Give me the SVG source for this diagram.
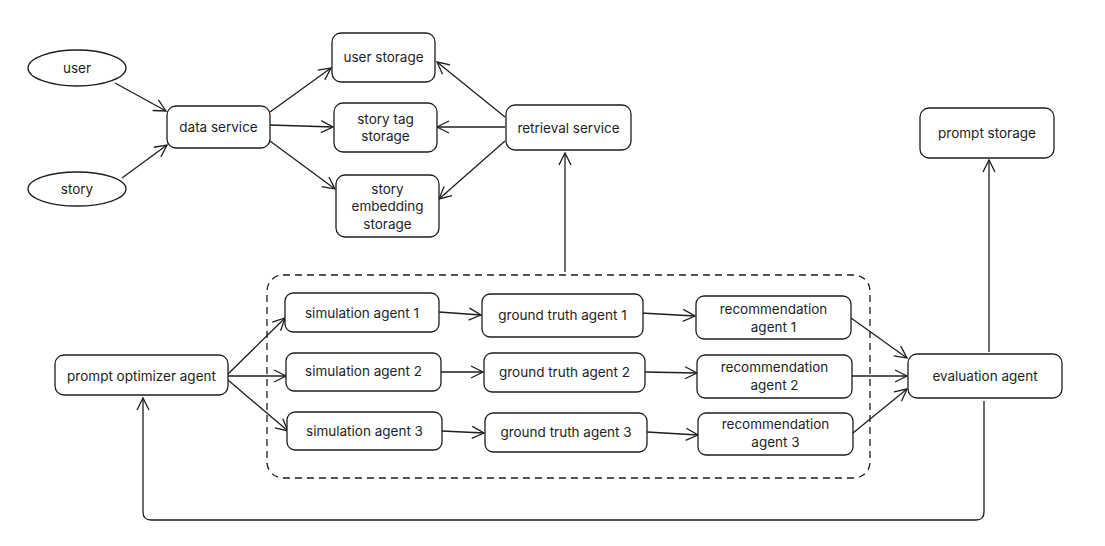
<svg xmlns="http://www.w3.org/2000/svg" width="1105" height="546" viewBox="0 0 1105 546">
<style>
.n{fill:#fff;stroke:#1e1e1e;stroke-width:1.3}
.t{font-family:Inter,"Noto Sans",sans-serif;font-size:13.5px;fill:#1e1e1e;text-anchor:middle;dominant-baseline:central}
.c{fill:none;stroke:#1e1e1e;stroke-width:1.3}
.a{marker-end:url(#ar)}
</style>
<defs>
<marker id="ar" markerUnits="userSpaceOnUse" markerWidth="16" markerHeight="16" refX="13" refY="7" orient="auto">
<path d="M1,1 L13,7 L1,13" fill="none" stroke="#1e1e1e" stroke-width="1.3"/>
</marker>
</defs>
<rect width="1105" height="546" fill="#fff"/>
<g id="container"><rect x="267" y="275" width="603" height="203" rx="16" fill="none" stroke="#1e1e1e" stroke-width="1.3" stroke-dasharray="7,5"/></g>
<g id="connectors">
<path class="c a" d="M115,83 L166,111"/>
<path class="c a" d="M122,178 L167,145"/>
<path class="c a" d="M270,112 L331,68"/>
<path class="c a" d="M270,125 L333,127"/>
<path class="c a" d="M270,141 L335,189"/>
<path class="c a" d="M505,117 L437,62"/>
<path class="c a" d="M505,127 L437,127"/>
<path class="c a" d="M505,141 L439,199"/>
<path class="c a" d="M565,272 L565,153"/>
<path class="c a" d="M228,374 L285,318"/>
<path class="c a" d="M228,376 L286,376"/>
<path class="c a" d="M228,380 L288,431"/>
<path class="c a" d="M439,312 L481,315"/>
<path class="c a" d="M641,313 L695,316"/>
<path class="c a" d="M441,372 L483,372"/>
<path class="c a" d="M645,372 L697,373"/>
<path class="c a" d="M442,431 L484,433"/>
<path class="c a" d="M647,432 L698,435"/>
<path class="c a" d="M851,318 L907,358"/>
<path class="c a" d="M852,376 L907,376"/>
<path class="c a" d="M853,433 L907,389"/>
<path class="c a" d="M989,352 L989,160"/>
<path class="c a" d="M984,401 L984,512 Q984,520 976,520 L151,520 Q143,520 143,512 L143,398"/>
</g>
<g id="user"><ellipse class="n" cx="77" cy="68" rx="49" ry="18"/><text class="t" x="77" y="68">user</text></g>
<g id="story"><ellipse class="n" cx="77" cy="189" rx="49" ry="17"/><text class="t" x="77" y="189">story</text></g>
<g id="data-service"><rect class="n" x="167" y="106" width="103" height="42" rx="9"/><text class="t" x="218.5" y="127">data service</text></g>
<g id="user-storage"><rect class="n" x="332" y="33" width="103" height="49" rx="9"/><text class="t" x="383.5" y="57">user storage</text></g>
<g id="story-tag-storage"><rect class="n" x="334" y="103" width="103" height="49" rx="9"/><text class="t" x="385.5" y="119">story tag</text><text class="t" x="385.5" y="136">storage</text></g>
<g id="story-embedding-storage"><rect class="n" x="336" y="175" width="103" height="62" rx="9"/><text class="t" x="387.5" y="189">story</text><text class="t" x="387.5" y="206">embedding</text><text class="t" x="387.5" y="224">storage</text></g>
<g id="retrieval-service"><rect class="n" x="506" y="105" width="125" height="45" rx="9"/><text class="t" x="568.5" y="128">retrieval service</text></g>
<g id="prompt-storage"><rect class="n" x="920" y="108" width="134" height="50" rx="9"/><text class="t" x="987" y="133">prompt storage</text></g>
<g id="prompt-optimizer-agent"><rect class="n" x="55" y="355" width="173" height="40" rx="9"/><text class="t" x="141.5" y="376">prompt optimizer agent</text></g>
<g id="simulation-agent-1"><rect class="n" x="285" y="293" width="154" height="39" rx="8"/><text class="t" x="362" y="313">simulation agent 1</text></g>
<g id="simulation-agent-2"><rect class="n" x="286" y="353" width="155" height="38" rx="8"/><text class="t" x="363.5" y="371">simulation agent 2</text></g>
<g id="simulation-agent-3"><rect class="n" x="287" y="412" width="155" height="38" rx="8"/><text class="t" x="364.5" y="431">simulation agent 3</text></g>
<g id="ground-truth-agent-1"><rect class="n" x="482" y="294" width="161" height="43" rx="8"/><text class="t" x="562.5" y="315">ground truth agent 1</text></g>
<g id="ground-truth-agent-2"><rect class="n" x="484" y="353" width="161" height="39" rx="8"/><text class="t" x="564.5" y="372">ground truth agent 2</text></g>
<g id="ground-truth-agent-3"><rect class="n" x="485" y="413" width="162" height="39" rx="8"/><text class="t" x="566" y="432">ground truth agent 3</text></g>
<g id="recommendation-agent-1"><rect class="n" x="696" y="296" width="155" height="43" rx="8"/><text class="t" x="773.5" y="309">recommendation</text><text class="t" x="773.5" y="327">agent 1</text></g>
<g id="recommendation-agent-2"><rect class="n" x="697" y="355" width="155" height="43" rx="8"/><text class="t" x="774.5" y="367">recommendation</text><text class="t" x="774.5" y="385">agent 2</text></g>
<g id="recommendation-agent-3"><rect class="n" x="698" y="413" width="155" height="42" rx="8"/><text class="t" x="775.5" y="424">recommendation</text><text class="t" x="775.5" y="442">agent 3</text></g>
<g id="evaluation-agent"><rect class="n" x="908" y="354" width="154" height="44" rx="9"/><text class="t" x="985" y="376">evaluation agent</text></g>
</svg>
